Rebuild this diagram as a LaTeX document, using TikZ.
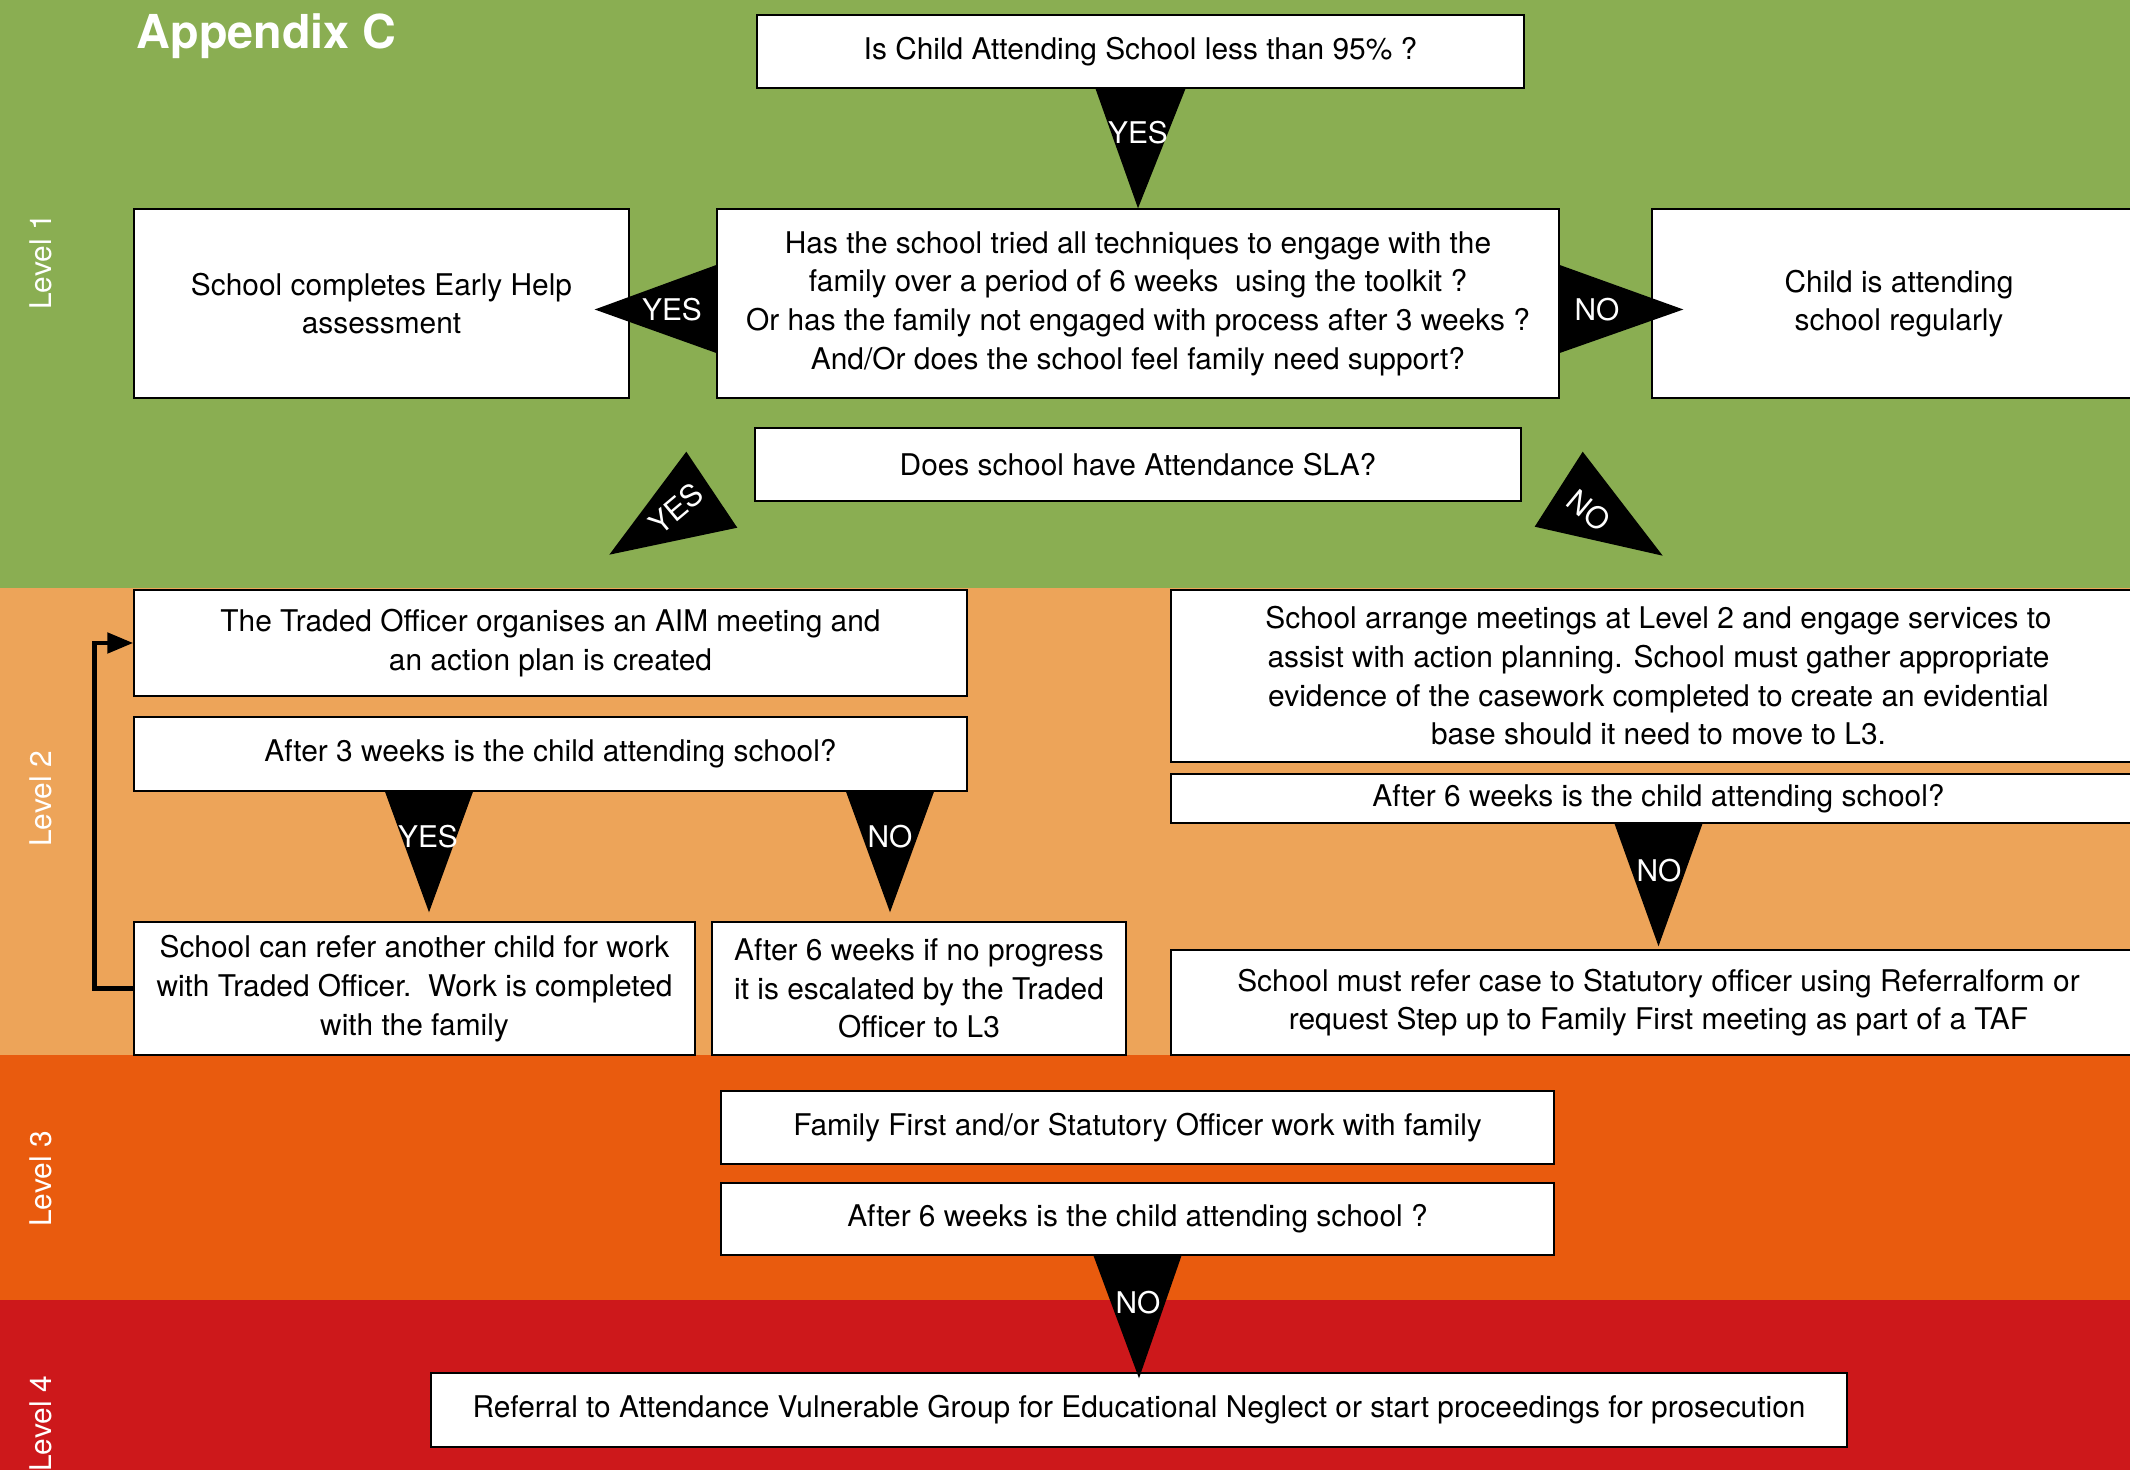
\documentclass[tikz,border=0pt]{standalone}
\usepackage{fontspec}
\setmainfont{TeX Gyre Heros}
\usetikzlibrary{arrows.meta}

\definecolor{levelone}{HTML}{8AAE52}
\definecolor{leveltwo}{HTML}{EDA459}
\definecolor{levelthree}{HTML}{E95B0E}
\definecolor{levelfour}{HTML}{CD181B}

\tikzset{
	box/.style={draw,fill=white,line width=.4pt,align=center,inner sep=0pt,font=\fontsize{8.5}{11}\selectfont},
	lbl/.style={text=white,inner sep=0pt,font=\fontsize{8.5}{10}\selectfont},
	lvl/.style={text=white,rotate=90,inner sep=0pt,font=\fontsize{8.5}{10}\selectfont},
	backarrow/.style={line width=1.4pt,-{Triangle[length=2.6mm,width=2mm]}}
}

\begin{document}
\begin{tikzpicture}
	\useasboundingbox (0,0) rectangle (21.3,-14.7);
	% level bands
	\fill[levelone] (0,0) rectangle (21.3,-5.88);
	\fill[leveltwo] (0,-5.88) rectangle (21.3,-10.55);
	\fill[levelthree] (0,-10.55) rectangle (21.3,-13);
	\fill[levelfour] (0,-13) rectangle (21.3,-14.7);

	\node[lvl] (lvl1) at (.41,-2.62) {Level 1};
	\node[lvl] (lvl2) at (.41,-7.99) {Level 2};
	\node[lvl] (lvl3) at (.41,-11.79) {Level 3};
	\node[lvl] (lvl4) at (.41,-14.24) {Level 4};

	\node[anchor=west,inner sep=0pt,text=white,font=\bfseries\fontsize{13.3}{16}\selectfont] (title) at (1.36,-.36) {Appendix C};

	% level 1
	\node[box,minimum width=7.67cm,minimum height=.73cm] (q1) at (11.405,-.515) {Is Child Attending School less than 95\% ?};
	\node[box,minimum width=8.42cm,minimum height=1.89cm] (q2) at (11.38,-3.035) {Has the school tried all techniques to engage with the\\family over a period of 6 weeks\ \ using the toolkit ?\\Or has the family not engaged with process after 3 weeks ?\\And/Or does the school feel family need support?};
	\node[box,minimum width=4.95cm,minimum height=1.89cm] (eh) at (3.815,-3.035) {School completes Early Help\\assessment};
	\node[box,minimum width=4.94cm,minimum height=1.89cm] (ca) at (18.99,-3.035) {Child is attending\\school regularly};
	\node[box,minimum width=7.66cm,minimum height=.73cm] (sla) at (11.38,-4.645) {Does school have Attendance SLA?};

	% level 2
	\node[box,minimum width=8.33cm,minimum height=1.06cm] (to) at (5.505,-6.43) {The Traded Officer organises an AIM meeting and\\an action plan is created};
	\node[box,minimum width=8.33cm,minimum height=.74cm] (a3) at (5.505,-7.54) {After 3 weeks is the child attending school?};
	\node[box,minimum width=5.61cm,minimum height=1.33cm] (sr) at (4.145,-9.885) {School can refer another child for work\\with Traded Officer.\ \ Work is completed\\with the family};
	\node[box,minimum width=4.14cm,minimum height=1.33cm] (e6) at (9.19,-9.885) {After 6 weeks if no progress\\it is escalated by the Traded\\Officer to L3};
	\node[box,minimum width=9.75cm,minimum height=1.72cm] (sm) at (16.585,-6.76) {School arrange meetings at Level 2 and engage services to\\assist with action planning. School must gather appropriate\\evidence of the casework completed to create an evidential\\base should it need to move to L3.};
	\node[box,minimum width=9.75cm,minimum height=.49cm] (a6) at (16.585,-7.985) {After 6 weeks is the child attending school?};
	\node[box,minimum width=9.75cm,minimum height=1.05cm] (srf) at (16.585,-10.025) {School must refer case to Statutory officer using Referralform or\\request Step up to Family First meeting as part of a TAF};

	% level 3 and 4
	\node[box,minimum width=8.33cm,minimum height=.73cm] (ff) at (11.375,-11.275) {Family First and/or Statutory Officer work with family};
	\node[box,minimum width=8.33cm,minimum height=.72cm] (a6b) at (11.375,-12.19) {After 6 weeks is the child attending school ?};
	\node[box,minimum width=14.16cm,minimum height=.74cm] (rf) at (11.39,-14.1) {Referral to Attendance Vulnerable Group for Educational Neglect or start proceedings for prosecution};

	% pointers
	\fill ([xshift=-4.5mm]q1.south) -- ([xshift=4.5mm]q1.south) -- (q2.north) -- cycle;
	\node[lbl] (yes1) at (11.38,-1.33) {YES};
	\fill ([yshift=3.85mm]q2.west) -- ([yshift=-4.95mm]q2.west) -- ([xshift=-3.5mm,yshift=-.6mm]eh.east) -- cycle;
	\node[lbl] (yes2) at (6.72,-3.1) {YES};
	\fill ([yshift=3.85mm]q2.east) -- ([yshift=-4.95mm]q2.east) -- ([xshift=3.2mm,yshift=-.6mm]ca.west) -- cycle;
	\node[lbl] (no1) at (15.97,-3.1) {NO};

	\fill ([shift={(-.68,.5)}]sla.south west) -- ([shift={(-.17,-.26)}]sla.south west) -- ([shift={(-1.45,-.53)}]sla.south west) -- cycle;
	\node[lbl,rotate=40] (yes3) at (6.76,-5.09) {YES};
	\fill ([shift={(.61,.5)}]sla.south east) -- ([shift={(.13,-.25)}]sla.south east) -- ([shift={(1.41,-.54)}]sla.south east) -- cycle;
	\node[lbl,rotate=-40] (no2) at (15.89,-5.11) {NO};

	\fill ([xshift=-16.55mm]a3.south) -- ([xshift=-7.75mm]a3.south) -- ([shift={(.145,.09)}]sr.north) -- cycle;
	\node[lbl] (yes4) at (4.28,-8.37) {YES};
	\fill ([xshift=29.55mm]a3.south) -- ([xshift=38.35mm]a3.south) -- ([shift={(-.29,.09)}]e6.north) -- cycle;
	\node[lbl] (no3) at (8.9,-8.37) {NO};
	\fill ([xshift=-4.4mm]a6.south) -- ([xshift=4.4mm]a6.south) -- ([yshift=.3mm]srf.north) -- cycle;
	\node[lbl] (no4) at (16.59,-8.71) {NO};
	\fill ([xshift=-4.4mm]a6b.south) -- ([xshift=4.4mm]a6b.south) -- ([yshift=-.6mm]rf.north) -- cycle;
	\node[lbl] (no5) at (11.38,-13.03) {NO};

	% back to the traded officer
	\draw[backarrow] (sr.west) -- ++(-.39,0) |- (to.west);
\end{tikzpicture}
\end{document}
